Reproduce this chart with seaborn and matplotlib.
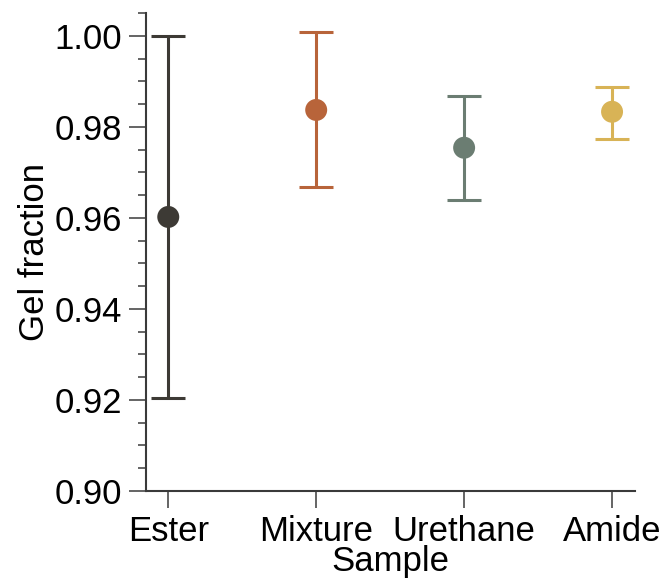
import matplotlib
matplotlib.use("Agg")
import matplotlib.pyplot as plt
import seaborn as sns
import pandas as pd
from matplotlib.ticker import MultipleLocator, AutoMinorLocator

# ---------------------------
# Data
# ---------------------------
samples = ["Ester", "Mixture", "Urethane", "Amide"]
gel_mean = [0.9602, 0.9837, 0.9754, 0.9833]
gel_upper = [1.0000, 1.0009, 0.9868, 0.9888]
gel_lower = [0.9204, 0.9668, 0.9640, 0.9774]
colors = ["#3d3a35", "#b8643a", "#6b7d72", "#d8b356"]

df = pd.DataFrame({"Sample": samples, "Gel fraction": gel_mean})

sns.set_style("ticks")
plt.rcParams["font.family"] = ["Liberation Sans", "DejaVu Sans"]
plt.rcParams["text.color"] = "black"
plt.rcParams["axes.labelcolor"] = "black"

fig = plt.figure(figsize=(6.67, 5.87), dpi=100)
ax = fig.add_axes([0.219, 0.1635, 0.733, 0.8144])

# error bars, one colour per sample
for i, s in enumerate(samples):
    ax.errorbar(i, gel_mean[i],
                yerr=[[gel_mean[i] - gel_lower[i]], [gel_upper[i] - gel_mean[i]]],
                fmt="none", ecolor=colors[i], elinewidth=2.2,
                capsize=12.5, capthick=2.2, zorder=2)

sns.scatterplot(data=df, x="Sample", y="Gel fraction", hue="Sample",
                palette=colors, s=250, edgecolor="none", legend=False,
                zorder=3, ax=ax)

ax.set_xlim(-0.15, 3.155)
ax.set_ylim(0.90, 1.005)
ax.yaxis.set_major_locator(MultipleLocator(0.02))
ax.yaxis.set_minor_locator(AutoMinorLocator(4))
ax.yaxis.set_major_formatter(matplotlib.ticker.FormatStrFormatter("%.2f"))

sns.despine(ax=ax)
for side in ["left", "bottom"]:
    ax.spines[side].set_color("#3a3a3a")
    ax.spines[side].set_linewidth(1.5)

ax.tick_params(axis="both", which="major", direction="out", length=12,
               width=1.1, color="#3a3a3a", labelsize=25, pad=5,
               labelcolor="black")
ax.tick_params(axis="y", which="minor", direction="out", length=6,
               width=1.1, color="#3a3a3a")
ax.tick_params(axis="x", which="minor", length=0)

ax.set_xlabel("Sample", fontsize=25, labelpad=-2)
ax.set_ylabel("Gel fraction", fontsize=25, labelpad=3)

fig.savefig("out.png", dpi=100)
